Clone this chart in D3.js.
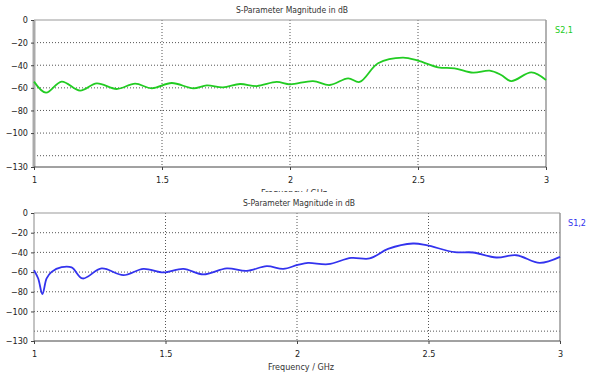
<!DOCTYPE html>
<html>
<head>
<meta charset="utf-8">
<script src="https://cdn.jsdelivr.net/npm/d3@7"></script>
<style>
  body { margin: 0; background: #fff; }
  text { font-family: "DejaVu Sans Condensed", "Liberation Sans", sans-serif; }
</style>
</head>
<body>
<div id="chart"></div>
<script>
const w = 598;
const h = 374;

// S2,1 (top panel), frequency in GHz and magnitude in dB
const s21Freq = [1.0, 1.047, 1.108, 1.18, 1.245, 1.323, 1.395, 1.46, 1.538, 1.622, 1.675, 1.738, 1.805, 1.87, 1.948, 2.0, 2.09, 2.155, 2.227, 2.272, 2.344, 2.441, 2.5, 2.578, 2.643, 2.715, 2.78, 2.825, 2.864, 2.943, 3.0];
const s21Db = [-54.5, -64.3, -54.5, -62.5, -56, -61, -56.3, -60.4, -55.7, -60.4, -57.8, -59.5, -56.6, -58.4, -54.8, -56.9, -54, -57.5, -51.6, -54.8, -38.3, -33.3, -36, -41.8, -42.7, -46.6, -44.8, -48.6, -54, -46.3, -53];

// S1,2 (bottom panel)
const s12Freq = [1.0, 1.016, 1.032, 1.048, 1.067, 1.105, 1.143, 1.185, 1.257, 1.34, 1.416, 1.492, 1.568, 1.644, 1.733, 1.809, 1.885, 1.948, 2.003, 2.042, 2.118, 2.206, 2.276, 2.346, 2.441, 2.492, 2.6, 2.669, 2.758, 2.834, 2.923, 3.0];
const s12Db = [-58.1, -66.5, -82.4, -66.5, -59.8, -55, -55.3, -66.5, -56.3, -63.1, -56.7, -60.4, -56.7, -62.4, -56.3, -58.8, -54, -56.7, -52.7, -50.7, -52, -45.6, -46.2, -36.5, -31, -32.7, -39.8, -40.1, -45.2, -42.9, -50.7, -44.6];

const xTicks = [1, 1.5, 2, 2.5, 3];
const yTicks = [0, -20, -40, -60, -80, -100, -130];
const gridY = [-20, -40, -60, -80, -100, -120];

const title = "S-Parameter Magnitude in dB";
const xLabel = "Frequency / GHz";

const svg = d3.select("#chart").append("svg").attr("width", w).attr("height", h);

function drawPanel(p) {
  const g = svg.append("g");
  g.append("rect")
    .attr("x", 0).attr("y", p.bgTop)
    .attr("width", w).attr("height", h - p.bgTop)
    .attr("fill", "#fff");

  const xScale = d3.scaleLinear().domain([1, 3]).range([p.left, p.right]);
  const yScale = d3.scaleLinear().domain([-130, 0]).range([p.bottom, p.top]);

  // grid
  g.selectAll(".gy").data(gridY).enter().append("line")
    .attr("x1", p.left).attr("x2", p.right)
    .attr("y1", (d) => yScale(d)).attr("y2", (d) => yScale(d))
    .attr("stroke", "#555").attr("stroke-width", 1).attr("stroke-dasharray", "1,2");
  g.selectAll(".gx").data(xTicks.slice(1, -1)).enter().append("line")
    .attr("y1", p.top).attr("y2", p.bottom)
    .attr("x1", (d) => xScale(d)).attr("x2", (d) => xScale(d))
    .attr("stroke", "#555").attr("stroke-width", 1).attr("stroke-dasharray", "1,2");

  // frame
  g.append("line").attr("x1", p.left).attr("x2", p.right).attr("y1", p.top).attr("y2", p.top)
    .attr("stroke", "#999");
  g.append("line").attr("x1", p.right).attr("x2", p.right).attr("y1", p.top).attr("y2", p.bottom)
    .attr("stroke", "#999").attr("stroke-width", 1.5);
  g.append("line").attr("x1", p.left).attr("x2", p.left).attr("y1", p.top).attr("y2", p.bottom)
    .attr("stroke", p.leftColor).attr("stroke-width", p.leftWidth);
  g.append("line").attr("x1", p.left).attr("x2", p.right).attr("y1", p.bottom).attr("y2", p.bottom)
    .attr("stroke", "#444");

  // axes
  const xAxis = d3.axisBottom(xScale).tickValues(xTicks).tickSize(3).tickFormat(d3.format("~g"));
  const gx = g.append("g").attr("transform", "translate(0," + p.bottom + ")").call(xAxis);
  const yAxis = d3.axisLeft(yScale).tickValues(yTicks).tickSize(3);
  const gy = g.append("g").attr("transform", "translate(" + p.left + ",0)").call(yAxis);
  [gx, gy].forEach((a) => {
    a.select(".domain").remove();
    a.selectAll(".tick line").attr("stroke", "#444");
    a.selectAll("text").attr("fill", "#222").style("font-size", "9px");
  });
  gx.selectAll("text").attr("dy", "1.1em");

  // title and labels
  g.append("text").attr("x", (p.left + p.right) / 2 + 2).attr("y", p.top - 7)
    .attr("text-anchor", "middle").attr("fill", "#333").style("font-size", "8.5px").text(title);
  g.append("text").attr("x", p.legendX).attr("y", p.top + 13)
    .attr("fill", p.color).style("font-size", "9px").text(p.name);
  g.append("text").attr("x", (p.left + p.right) / 2 + 4).attr("y", p.bottom + 29)
    .attr("text-anchor", "middle").attr("fill", "#333").style("font-size", "9px").text(xLabel);

  const line = d3.line()
    .x((d) => xScale(d[0]))
    .y((d) => yScale(d[1]))
    .curve(d3.curveCatmullRom.alpha(0.5));
  g.append("path")
    .datum(p.freq.map((f, i) => [f, p.db[i]]))
    .attr("d", line)
    .attr("fill", "none")
    .attr("stroke", p.color)
    .attr("stroke-width", 1.8);
}

drawPanel({
  bgTop: 0, left: 34, right: 546, top: 20, bottom: 167,
  freq: s21Freq, db: s21Db, color: "#22cc22", name: "S2,1", legendX: 555,
  leftColor: "#aaa", leftWidth: 3
});
drawPanel({
  bgTop: 192, left: 34, right: 560, top: 213, bottom: 341,
  freq: s12Freq, db: s12Db, color: "#3333ee", name: "S1,2", legendX: 568,
  leftColor: "#888", leftWidth: 1
});
</script>
</body>
</html>
